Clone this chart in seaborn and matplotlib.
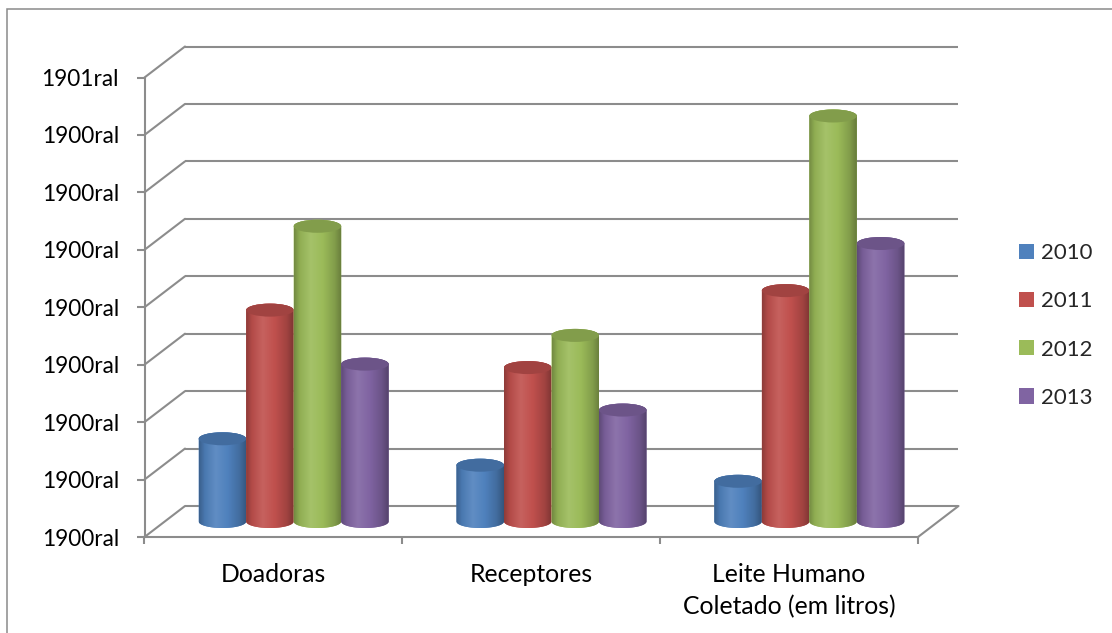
import numpy as np
import pandas as pd
import matplotlib
matplotlib.use("Agg")
import matplotlib.pyplot as plt
import seaborn as sns
from matplotlib.patches import Ellipse, PathPatch, Rectangle, Patch
from matplotlib.path import Path
from matplotlib.colors import to_rgb, LinearSegmentedColormap

# ---- data ----
categorias = ["Doadoras", "Receptores", "Leite Humano\nColetado (em litros)"]
anos = ["2010", "2011", "2012", "2013"]
valores_2010 = [72, 49, 35]
valores_2011 = [184, 134, 201]
valores_2012 = [257, 162, 353]
valores_2013 = [137, 97, 242]
cores = ["#4F81BD", "#C0504D", "#9BBB59", "#8064A2"]
ticks_y = [0, 50, 100, 150, 200, 250, 300, 350, 400]
rotulos_y = ["1900ral"] * 8 + ["1901ral"]

df = pd.DataFrame({
    "categoria": categorias * 4,
    "ano": np.repeat(anos, len(categorias)),
    "valor": valores_2010 + valores_2011 + valores_2012 + valores_2013,
})

sns.set_theme(style="white")
plt.rcParams["font.family"] = ["Lato", "DejaVu Sans"]
FS = 16.3
FS_X = 17.8
GRID = "#8C8C8C"
LW = 1.5

W, H = 1112, 633
fig = plt.figure(figsize=(W / 100, H / 100), dpi=100)
fig.patch.set_facecolor("white")

# front plane of the 3-D box, in pixels from the top-left corner
fx0, fx1 = 144.5, 918.0
fy0, fy1 = 537.0, 77.5
ax = fig.add_axes([fx0 / W, (H - fy0) / H, (fx1 - fx0) / W, (fy0 - fy1) / H])
ax.set_facecolor("none")

sns.barplot(data=df, x="categoria", y="valor", hue="ano", order=categorias,
            hue_order=anos, palette=cores, width=0.737, saturation=1,
            legend=False, ax=ax)
ax.set_xlim(-0.5, len(categorias) - 0.5)
ax.set_ylim(ticks_y[0], ticks_y[-1])
ax.set_xlabel("")
ax.set_ylabel("")

# depth of the box expressed in data units
px_x = (fx1 - fx0) / len(categorias)
px_y = (fy0 - fy1) / (ticks_y[-1] - ticks_y[0])
ddx = 40.5 / px_x
ddy = 31.0 / px_y
xl, xr = ax.get_xlim()

# back wall, left wall and floor
for v in ticks_y:
    ax.plot([xl + ddx, xr + ddx], [v + ddy, v + ddy], color=GRID, lw=LW,
            clip_on=False, zorder=0, solid_capstyle="butt")
    ax.plot([xl, xl + ddx], [v, v + ddy], color=GRID, lw=LW,
            clip_on=False, zorder=0)
ax.plot([xr, xr + ddx], [0, ddy], color=GRID, lw=LW, clip_on=False, zorder=0)

# cylinders built from the bars seaborn placed
mx, my = ddx / 2, ddy / 2
b = (13.0 / px_y) / 2
prof_t = [0.0, 0.12, 0.35, 0.6, 0.85, 1.0]
prof_f = [0.74, 0.93, 1.10, 1.0, 0.84, 0.66]


def shade(c, f):
    c = np.array(to_rgb(c))
    if f < 1:
        return tuple(c * f)
    return tuple(c + (1 - c) * (f - 1))


bars = sorted([p for p in ax.patches if isinstance(p, Rectangle)],
              key=lambda p: p.get_x())
for k, p in enumerate(bars):
    x, w, h = p.get_x(), p.get_width(), p.get_height()
    col = p.get_facecolor()
    p.set_visible(False)
    a = w / 2
    cx = x + a + mx
    base, top = my, h + my
    t1 = np.linspace(np.pi, 2 * np.pi, 40)
    t2 = np.linspace(0, np.pi, 40)
    verts = [(cx - a, top), (cx - a, base)]
    verts += [(cx + a * np.cos(t), base + b * np.sin(t)) for t in t1]
    verts += [(cx + a, top)]
    verts += [(cx + a * np.cos(t), top + b * np.sin(t)) for t in t2]
    verts += [(cx - a, top)]
    codes = [Path.MOVETO] + [Path.LINETO] * (len(verts) - 2) + [Path.CLOSEPOLY]
    sil = PathPatch(Path(verts, codes), facecolor=col, edgecolor="none",
                    zorder=2 + k * 0.01, clip_on=False)
    ax.add_patch(sil)
    cmap = LinearSegmentedColormap.from_list(
        "cyl", [(t, shade(col, f)) for t, f in zip(prof_t, prof_f)])
    img = ax.imshow(np.linspace(0, 1, 200)[None, :], cmap=cmap, aspect="auto",
                    extent=(cx - a, cx + a, base - b, top + b),
                    zorder=2 + k * 0.01, interpolation="bilinear")
    img.set_clip_path(sil)
    ax.add_patch(Ellipse((cx, top), 2 * a, 2 * b, facecolor=shade(col, 0.84),
                         edgecolor="none", zorder=2 + k * 0.01 + 0.005,
                         clip_on=False))

ax.set_xlim(xl, xr)
ax.set_ylim(ticks_y[0], ticks_y[-1])

# axes styling
for s in ["top", "right"]:
    ax.spines[s].set_visible(False)
for s in ["left", "bottom"]:
    ax.spines[s].set_color(GRID)
    ax.spines[s].set_linewidth(LW)
    ax.spines[s].set_zorder(1)

ax.set_yticks(ticks_y)
ax.set_yticklabels(rotulos_y)
ax.tick_params(axis="y", which="major", direction="out", length=5.8,
               width=LW, color=GRID, pad=12.5, labelsize=FS, labelcolor="black",
               left=True)
ax.set_xticks(range(len(categorias)))
ax.set_xticklabels(categorias, fontsize=FS_X, linespacing=1.45)
ax.set_xticks(np.arange(xl, xr + 0.01, 1.0), minor=True)
ax.tick_params(axis="x", which="major", length=0, pad=19, labelcolor="black")
ax.tick_params(axis="x", which="minor", direction="out", length=5.2,
               width=LW, color=GRID, bottom=True)

# legend
handles = [Patch(facecolor=c, edgecolor="none", label=l) for c, l in zip(cores, anos)]
fig.legend(handles=handles, loc="center left",
           bbox_to_anchor=(1019 / W, (H - 325.5) / H), frameon=False,
           fontsize=16, handlelength=0.68, handleheight=0.68,
           handletextpad=0.3, labelspacing=1.27, borderpad=0, borderaxespad=0)

# chart area border
fig.add_artist(Rectangle((7 / W, -0.1), 1.2, (H - 9) / H + 0.1,
                         transform=fig.transFigure, fill=False,
                         edgecolor="#8A8A8A", lw=1.1))

fig.savefig("out.png", dpi=100)
